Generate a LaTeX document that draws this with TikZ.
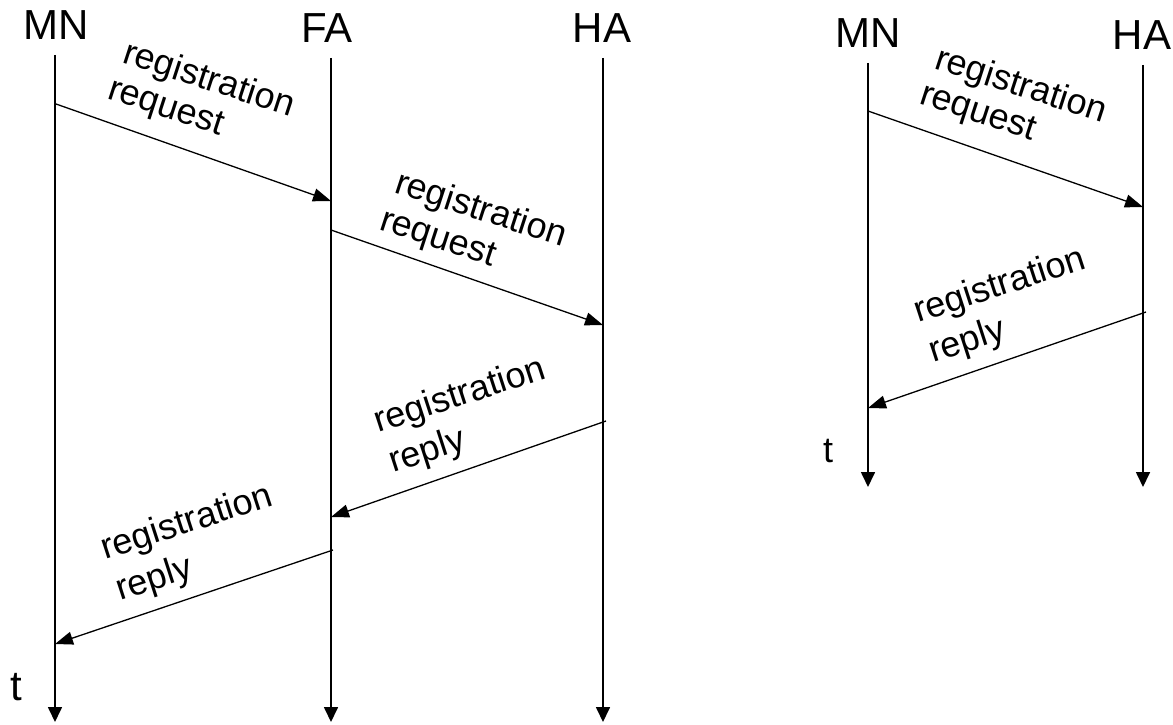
\documentclass[tikz,border=0pt]{standalone}
\usepackage{fontspec}
\setmainfont{Liberation Sans}
\usetikzlibrary{arrows.meta}
\begin{document}
\begin{tikzpicture}[x=1pt,y=-1pt,
  title/.style={anchor=base,inner sep=0pt,font=\fontsize{42}{48}\selectfont},
  msglabel/.style={anchor=base west,inner sep=0pt,font=\fontsize{36}{41}\selectfont},
  req/.style={msglabel,rotate=-18},
  rep/.style={msglabel,rotate=18},
  lifeline/.style={line width=1.7pt,-{Triangle[length=15pt,width=14pt]}},
  msg/.style={line width=1.3pt,-{Triangle[length=18pt,width=13pt]}}]
\useasboundingbox (0,0) rectangle (1173,725);
% ---------- left diagram ----------
\node[title] (mnL) at (56,40) {MN};
\node[title] (faL) at (327,43) {FA};
\node[title] (haL) at (602,43) {HA};
\coordinate (mnLtop) at (55,55);  \coordinate (mnLbot) at (55,722);
\coordinate (faLtop) at (331,58); \coordinate (faLbot) at (331,722);
\coordinate (haLtop) at (603,58); \coordinate (haLbot) at (603,722);
\draw[lifeline] (mnLtop) -- (mnLbot);
\draw[lifeline] (faLtop) -- (faLbot);
\draw[lifeline] (haLtop) -- (haLbot);
\node[anchor=base west,inner sep=0pt,font=\fontsize{42}{48}\selectfont] (tL) at (10,700) {t};

\coordinate (a1s) at (56,104);  \coordinate (a1e) at (331,201);
\coordinate (a2s) at (331,230); \coordinate (a2e) at (603,325);
\coordinate (a3s) at (606,421); \coordinate (a3e) at (331,517);
\coordinate (a4s) at (333,550); \coordinate (a4e) at (55,644);
\draw[msg] (a1s) -- (a1e);
\draw[msg] (a2s) -- (a2e);
\draw[msg] (a3s) -- (a3e);
\draw[msg] (a4s) -- (a4e);
\node[req] (l1a) at (121,62) {registration};
\node[req] (l1b) at (106,98) {request};
\node[req] (l2a) at (393,192) {registration};
\node[req] (l2b) at (378,229) {request};
\node[rep] (l3a) at (378,433) {registration};
\node[rep] (l3b) at (393,473) {reply};
\node[rep] (l4a) at (105,560) {registration};
\node[rep] (l4b) at (120,601) {reply};
% ---------- right diagram ----------
\node[title] (mnR) at (868,48) {MN};
\node[title] (haR) at (1142,50) {HA};
\coordinate (mnRtop) at (868,63);  \coordinate (mnRbot) at (868,487);
\coordinate (haRtop) at (1143,65); \coordinate (haRbot) at (1143,487);
\draw[lifeline] (mnRtop) -- (mnRbot);
\draw[lifeline] (haRtop) -- (haRbot);
\node[anchor=base west,inner sep=0pt,font=\fontsize{36}{41}\selectfont] (tR) at (823,462) {t};
\coordinate (b1s) at (868,111);  \coordinate (b1e) at (1143,207);
\coordinate (b2s) at (1146,312); \coordinate (b2e) at (868,408);
\draw[msg] (b1s) -- (b1e);
\draw[msg] (b2s) -- (b2e);
\node[req] (r1a) at (933,68) {registration};
\node[req] (r1b) at (918,103) {request};
\node[rep] (r2a) at (918,323) {registration};
\node[rep] (r2b) at (933,363) {reply};
\end{tikzpicture}
\end{document}
